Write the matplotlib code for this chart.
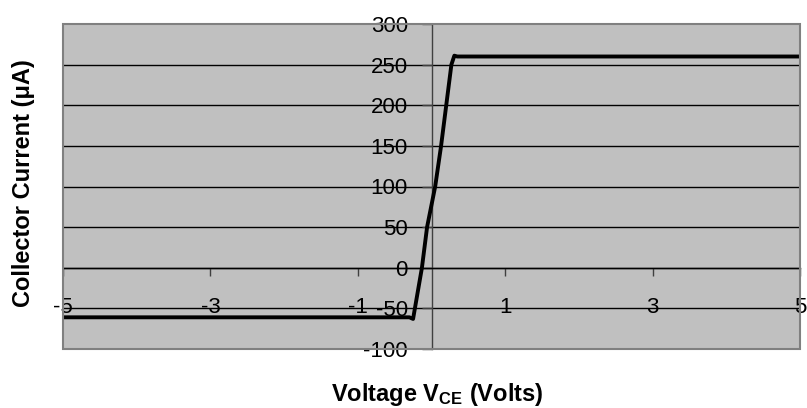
import matplotlib
matplotlib.use("Agg")
import matplotlib.pyplot as plt
from matplotlib.patches import Rectangle

plt.rcParams['font.family'] = ['Liberation Sans', 'DejaVu Sans']
plt.rcParams['mathtext.fontset'] = 'custom'
plt.rcParams['mathtext.rm'] = 'Liberation Sans:bold'
plt.rcParams['mathtext.it'] = 'Liberation Sans:bold'
plt.rcParams['mathtext.bf'] = 'Liberation Sans:bold'

# Data
vce = [-5, -0.3, -0.25, -0.13, -0.06, 0.05, 0.13, 0.2, 0.27, 0.31, 0.35, 5]
ic = [-61, -61, -63, 0, 50, 100, 150, 200, 250, 261, 260, 260]
x_ticks = [-5, -3, -1, 1, 3, 5]
y_ticks = [-100, -50, 0, 50, 100, 150, 200, 250, 300]

W, H = 807, 408
fig = plt.figure(figsize=(W / 100, H / 100), dpi=100)
fig.patch.set_facecolor('white')
ax = fig.add_axes([63 / W, (H - 349) / H, 737 / W, 325 / H])
ax.set_facecolor('#C0C0C0')

ax.set_xlim(-5, 5)
ax.set_ylim(-100, 300)

for y in y_ticks[1:-1]:
    ax.axhline(y, color='black', lw=1.0, zorder=1)

ax.plot(vce, ic, color='black', lw=2.8, solid_joinstyle='round', zorder=3)

for s in ['top', 'right']:
    ax.spines[s].set_visible(False)
ax.spines['left'].set_position(('data', 0))
ax.spines['bottom'].set_position(('data', 0))
ax.spines['left'].set_color('#404040')
ax.spines['left'].set_linewidth(1.0)
ax.spines['bottom'].set_color('black')
ax.spines['bottom'].set_linewidth(1.0)
ax.add_patch(Rectangle((0, 0), 1, 1, transform=ax.transAxes, fill=False,
                       edgecolor='#808080', lw=1.5, zorder=4, clip_on=False))

ax.set_xticks(x_ticks)
ax.set_xticklabels([str(v) for v in x_ticks])
ax.set_yticks(y_ticks)
ax.set_yticklabels([str(v) for v in y_ticks])
ax.tick_params(axis='x', direction='out', length=6, width=1, color='#404040',
               pad=15, labelsize=16)
ax.tick_params(axis='y', direction='out', length=7, width=1, color='#404040',
               pad=10, labelsize=16)

fig.text(24 / W, 1 - 183 / H, 'Collector Current (μA)', rotation=90,
         ha='center', va='center', fontsize=17, fontweight='bold')
fig.text(437 / W, 1 - 395 / H, r'Voltage V$_{\mathrm{CE}}$ (Volts)',
         ha='center', va='center', fontsize=17, fontweight='bold')

fig.savefig('out.png', dpi=100)
